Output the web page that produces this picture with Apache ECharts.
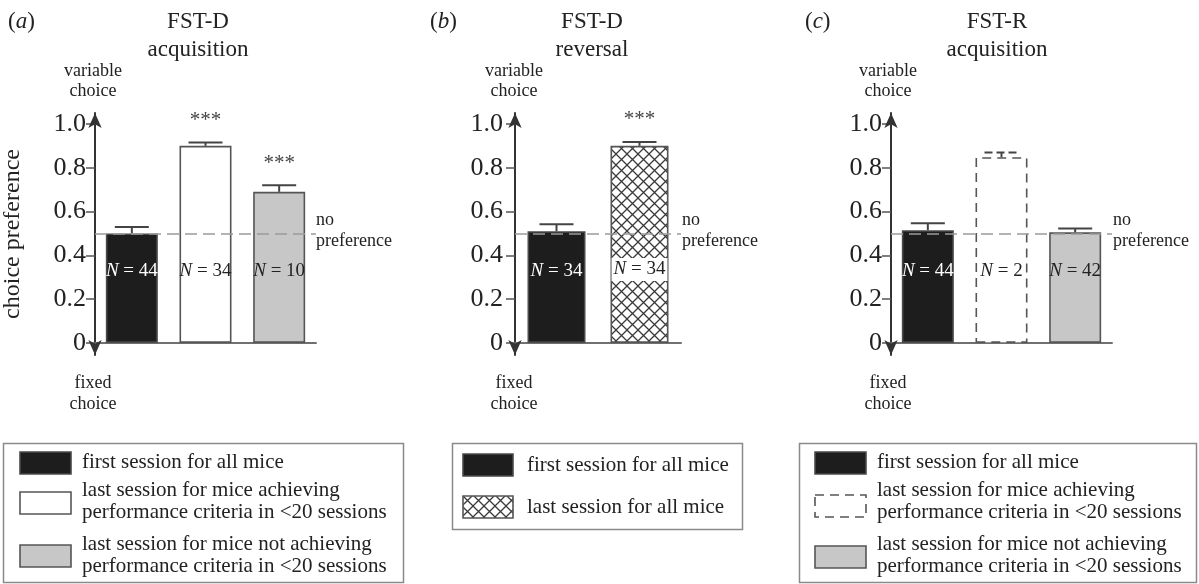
<!DOCTYPE html>
<html><head><meta charset="utf-8">
<script src="https://cdn.jsdelivr.net/npm/echarts@6/dist/echarts.min.js"></script>
<style>html,body{margin:0;padding:0;background:#fff}#c{width:1199px;height:584px}</style>
</head><body><div id="c"></div>
<script>
// ---------------- data ----------------
const tickValues = [0, 0.2, 0.4, 0.6, 0.8, 1.0];
const tickLabels = ['0', '0.2', '0.4', '0.6', '0.8', '1.0'];
const noPrefLevel = 0.5;

// (a) FST-D acquisition
const catsA = ['first session', 'last session (achieving)', 'last session (not achieving)'];
const meanA = [0.50, 0.90, 0.69];
const semA  = [0.03, 0.015, 0.03];
const nA    = [44, 34, 10];
const sigA  = ['', '***', '***'];
const kindA = ['black', 'white', 'gray'];

// (b) FST-D reversal
const catsB = ['first session', 'last session'];
const meanB = [0.51, 0.90];
const semB  = [0.032, 0.018];
const nB    = [34, 34];
const sigB  = ['', '***'];
const kindB = ['black', 'hatch'];

// (c) FST-R acquisition
const catsC = ['first session', 'last session (achieving)', 'last session (not achieving)'];
const meanC = [0.515, 0.848, 0.505];
const semC  = [0.032, 0.022, 0.018];
const nC    = [44, 2, 42];
const sigC  = ['', '', ''];
const kindC = ['black', 'dashed', 'gray'];

const panelTitles = [['FST-D', 'acquisition'], ['FST-D', 'reversal'], ['FST-R', 'acquisition']];
const panelLetters = ['a', 'b', 'c'];
const legendA = [['first session for all mice'],
  ['last session for mice achieving', 'performance criteria in <20 sessions'],
  ['last session for mice not achieving', 'performance criteria in <20 sessions']];
const legendB = [['first session for all mice'], ['last session for all mice']];
const legendC = legendA;

// ---------------- styles ----------------
const FONT = '"Liberation Serif", "Times New Roman", serif';
function makeHatch() {
  const s = 11, c = document.createElement('canvas');
  c.width = s; c.height = s;
  const g = c.getContext('2d');
  g.fillStyle = '#fff'; g.fillRect(0, 0, s, s);
  g.strokeStyle = '#3a3a3a'; g.lineWidth = 1.3;
  g.beginPath();
  g.moveTo(-2, -2); g.lineTo(s + 2, s + 2);
  g.moveTo(s + 2, -2); g.lineTo(-2, s + 2);
  g.stroke();
  return c;
}
const hatch = makeHatch();
const kinds = {
  black:  {fill: '#1d1d1d', stroke: '#4a4a4a', dash: null, text: '#fff', bg: null},
  white:  {fill: '#ffffff', stroke: '#555', dash: null, text: '#222', bg: null},
  gray:   {fill: '#c7c7c7', stroke: '#555', dash: null, text: '#222', bg: null},
  hatch:  {fill: {image: hatch, repeat: 'repeat'}, stroke: '#555', dash: null, text: '#222', bg: '#fff'},
  dashed: {fill: '#ffffff', stroke: '#555', dash: [9, 6], text: '#222', bg: null}
};

const panels = [
  {cats: catsA, mean: meanA, sem: semA, n: nA, sig: sigA, kind: kindA, left: 94, width: 222, barW: 52, labMargin: 9},
  {cats: catsB, mean: meanB, sem: semB, n: nB, sig: sigB, kind: kindB, left: 515, width: 166, barW: 58, labMargin: 12},
  {cats: catsC, mean: meanC, sem: semC, n: nC, sig: sigC, kind: kindC, left: 891, width: 221, barW: 52, labMargin: 9}
];

const grids = [], xAxes = [], yAxes = [], series = [];
panels.forEach((p, k) => {
  grids.push({left: p.left, width: p.width, top: 113, bottom: 229, containLabel: false});
  xAxes.push({
    type: 'category', gridIndex: k, data: p.cats,
    axisLine: {onZero: true, lineStyle: {color: '#707070', width: 2}},
    axisTick: {show: false}, axisLabel: {show: false}, splitLine: {show: false}
  });
  yAxes.push({
    type: 'value', gridIndex: k, min: -0.055, max: 1.05,
    name: k === 0 ? 'choice preference' : '',
    nameLocation: 'middle', nameRotate: 90, nameGap: 70,
    nameTextStyle: {fontFamily: FONT, fontSize: 24, color: '#222'},
    axisLine: {show: true, lineStyle: {color: '#333', width: 2},
      symbol: ['arrow', 'arrow'], symbolSize: [10, 15]},
    axisTick: {show: true, length: 9, customValues: tickValues, lineStyle: {color: '#555', width: 1.5}},
    axisLabel: {customValues: tickValues, margin: p.labMargin,
      fontFamily: FONT, fontSize: 26, color: '#222',
      formatter: v => { const i = tickValues.findIndex(t => Math.abs(t - v) < 1e-6); return i >= 0 ? tickLabels[i] : ''; }},
    splitLine: {show: false}
  });
  series.push({
    type: 'bar', xAxisIndex: k, yAxisIndex: k, barWidth: p.barW, z: 2, silent: true,
    data: p.mean.map((v, i) => {
      const st = kinds[p.kind[i]];
      return {
        value: v,
        itemStyle: {color: st.fill, borderColor: st.stroke, borderWidth: 1.6, borderType: st.dash || 'solid'},
        label: {color: st.text, backgroundColor: st.bg || 'transparent', padding: st.bg ? [2, 2] : 0}
      };
    }),
    label: {
      show: true, position: 'insideBottom', distance: 62,
      fontFamily: FONT, fontSize: 19,
      formatter: q => '{i|N} = ' + p.n[q.dataIndex],
      rich: {i: {fontStyle: 'italic', fontFamily: FONT, fontSize: 19}}
    }
  });
  series.push({
    type: 'custom', xAxisIndex: k, yAxisIndex: k, z: 4, silent: true,
    data: p.mean.map((v, i) => [i, v, p.sem[i]]),
    renderItem: (params, api) => {
      const i = params.dataIndex;
      const x = api.value(0), m = api.value(1), e = api.value(2);
      const p0 = api.coord([x, m]), p1 = api.coord([x, m + e]);
      const dash = p.kind[i] === 'dashed' ? [8, 4] : null;
      const half = 17;
      const ch = [
        {type: 'line', shape: {x1: p0[0], y1: p0[1], x2: p1[0], y2: p1[1]}, style: {stroke: '#444', lineWidth: 2}},
        {type: 'line', shape: {x1: p1[0] - half, y1: p1[1], x2: p1[0] + half, y2: p1[1]}, style: {stroke: '#444', lineWidth: 2, lineDash: dash}}
      ];
      if (p.sig[i]) ch.push({type: 'text', style: {text: p.sig[i], x: p1[0], y: p1[1] - 22, align: 'center', verticalAlign: 'middle', font: '21px ' + FONT, fill: '#444'}});
      return {type: 'group', children: ch};
    },
    markLine: {
      silent: true, symbol: 'none', label: {show: false},
      lineStyle: {type: [12, 6], color: '#9a9a9a', width: 1.6},
      data: [{yAxis: noPrefLevel}]
    }
  });
});

// ---------------- text and legends ----------------
const graphics = [];
const txt = (x, y, text, size, align, extra) => graphics.push(Object.assign({
  type: 'text', x: x, y: y,
  style: {text: text, font: size + 'px ' + FONT, fill: '#222', align: align || 'center', verticalAlign: 'middle'}
}, extra || {}));

const titleX = [198, 592, 997];
const letterX = [8, 430, 805];
const varX = [93, 514, 888];
const noPrefX = [316, 682, 1113];
panelTitles.forEach((t, k) => {
  txt(titleX[k], 22, t[0], 23);
  txt(titleX[k], 50, t[1], 23);
  graphics.push({type: 'text', x: letterX[k], y: 22, style: {
    text: '({i|' + panelLetters[k] + '})', font: '23px ' + FONT, fill: '#222', align: 'left', verticalAlign: 'middle',
    rich: {i: {fontStyle: 'italic', fontSize: 23, fontFamily: FONT, fill: '#222'}}}});
  txt(varX[k], 71, 'variable', 18);
  txt(varX[k], 91, 'choice', 18);
  txt(varX[k], 383, 'fixed', 18);
  txt(varX[k], 404, 'choice', 18);
  txt(noPrefX[k], 220, 'no', 18, 'left');
  txt(noPrefX[k], 241, 'preference', 18, 'left');
});

function legendBox(box, swX, swW, txX, items, swY, lineY, kindList) {
  graphics.push({type: 'rect', shape: box, style: {fill: '#fff', stroke: '#8a8a8a', lineWidth: 1.5}});
  items.forEach((lines, i) => {
    const st = kinds[kindList[i]];
    graphics.push({type: 'rect', shape: {x: swX, y: swY[i], width: swW, height: 22},
      style: {fill: st.fill, stroke: st.stroke, lineWidth: 1.6, lineDash: st.dash}});
    lines.forEach((l, j) => txt(txX, lineY[i][j], l, 21, 'left'));
  });
}
legendBox({x: 3.5, y: 443.5, width: 400, height: 139}, 20, 51, 82, legendA,
  [452, 492, 545], [[462], [490, 512], [544, 566]], kindA);
legendBox({x: 452.5, y: 443.5, width: 290, height: 86}, 463, 50, 527, legendB,
  [454, 496], [[465], [507]], kindB);
legendBox({x: 799.5, y: 443.5, width: 397, height: 139}, 815, 51, 877, legendC,
  [452, 495, 546], [[462], [490, 512], [544, 566]], kindC);

const chart = echarts.init(document.getElementById('c'), null, {renderer: 'canvas'});
chart.setOption({
  backgroundColor: '#fff', animation: false,
  grid: grids, xAxis: xAxes, yAxis: yAxes, series: series, graphic: graphics
});
</script></body></html>
